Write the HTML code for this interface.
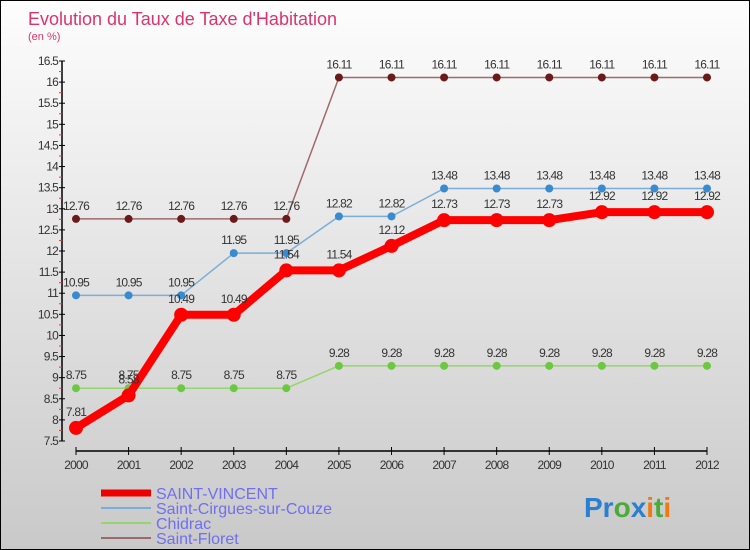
<!DOCTYPE html>
<html><head><meta charset="utf-8"><style>
body{margin:0}
#c{width:750px;height:550px;position:relative;box-sizing:border-box;border:1px solid #000;background:linear-gradient(#fdfdfd,#c9c9c9);font-family:"Liberation Sans",sans-serif;overflow:hidden}
svg{position:absolute;left:0;top:0}
</style></head><body>
<div id="c">
<svg id="s" width="750" height="550">
<text x="27" y="24" font-size="18" fill="#d8356e">Evolution du Taux de Taxe d'Habitation</text>
<text x="27" y="39" font-size="11" fill="#d8356e">(en %)</text>
<g id="ax"></g><g id="ser"></g>
<g>
<line x1="100" y1="492" x2="150" y2="492" stroke="#e00" stroke-width="7"/>
<text x="155" y="498" font-size="16" fill="#6f6ff0">SAINT-VINCENT</text>
<line x1="100" y1="507" x2="150" y2="507" stroke="#7aaed8" stroke-width="2"/>
<text x="155" y="513" font-size="16" fill="#6f6ff0">Saint-Cirgues-sur-Couze</text>
<line x1="100" y1="522" x2="150" y2="522" stroke="#96d46e" stroke-width="2"/>
<text x="155" y="528" font-size="16" fill="#6f6ff0">Chidrac</text>
<line x1="100" y1="537" x2="150" y2="537" stroke="#9a6a6a" stroke-width="2"/>
<text x="155" y="543" font-size="16" fill="#6f6ff0">Saint-Floret</text>
</g>
<text x="583" y="516" font-size="28" font-weight="bold"><tspan fill="#2a7fd0">Pr</tspan><tspan fill="#4aaa3a">o</tspan><tspan fill="#2a7fd0">x</tspan><tspan fill="#f07a10">i</tspan><tspan fill="#4aaa3a">t</tspan><tspan fill="#f07a10">i</tspan></text>
</svg>
</div>
<script>
const years=[2000,2001,2002,2003,2004,2005,2006,2007,2008,2009,2010,2011,2012];
const yTicks=[7.5,8,8.5,9,9.5,10,10.5,11,11.5,12,12.5,13,13.5,14,14.5,15,15.5,16,16.5];
const saintVincent=[7.81,8.58,10.49,10.49,11.54,11.54,12.12,12.73,12.73,12.73,12.92,12.92,12.92];
const saintCirgues=[10.95,10.95,10.95,11.95,11.95,12.82,12.82,13.48,13.48,13.48,13.48,13.48,13.48];
const chidrac=[8.75,8.75,8.75,8.75,8.75,9.28,9.28,9.28,9.28,9.28,9.28,9.28,9.28];
const saintFloret=[12.76,12.76,12.76,12.76,12.76,16.11,16.11,16.11,16.11,16.11,16.11,16.11,16.11];
const NS="http://www.w3.org/2000/svg";
const X=i=>75+i*(706-75)/12;
const Y=v=>440-(v-7.5)*(380/9);
function mk(t,a,p){const e=document.createElementNS(NS,t);for(const k in a)e.setAttribute(k,a[k]);p.appendChild(e);return e;}
const ax=document.getElementById('ax');
let e=mk('line',{x1:61,y1:60,x2:61,y2:440,stroke:'#000','stroke-width':1.5},ax);


yTicks.forEach((v,k)=>{
 mk('line',{x1:58,y1:Y(v),x2:64,y2:Y(v),stroke:'#000'},ax);
 if(k<yTicks.length-1) mk('line',{x1:58,y1:Y(v+0.25),x2:61,y2:Y(v+0.25),stroke:'#e33'},ax);
 const t=mk('text',{x:57,y:Y(v)+4,'font-size':12,fill:'#333','text-anchor':'end','letter-spacing':'-0.8'},ax);
 t.textContent=v;
 
 
});
e=mk('line',{x1:75,y1:450,x2:706,y2:450,stroke:'#000','stroke-width':1.5},ax);


years.forEach((y,i)=>{
 mk('line',{x1:X(i),y1:446,x2:X(i),y2:454,stroke:'#000'},ax);
 const t=mk('text',{x:X(i),y:468,'font-size':12,fill:'#333','text-anchor':'middle','letter-spacing':'-0.8'},ax);
 t.textContent=y;
 
 
});
const ser=document.getElementById('ser');
function draw(vals,name,line,dot,lw,r){
 const g=mk('g',{},ser);
 
 
 const p=mk('polyline',{points:vals.map((v,i)=>X(i)+','+Y(v)).join(' '),fill:'none',stroke:line,'stroke-width':lw,'stroke-linejoin':'round'},g);
 
 
 vals.forEach((v,i)=>{
  const c=mk('circle',{cx:X(i),cy:Y(v),r:r,fill:dot},g);
  
  
  const t=mk('text',{x:X(i),y:Y(v)-r-5,'font-size':12,fill:'#333','text-anchor':'middle','letter-spacing':'-0.8'},g);
  t.textContent=v;
  
  
 });
}
draw(saintFloret,'saint-floret','#a06a6a','#6b1a1a',1.5,4);
draw(saintCirgues,'saint-cirgues','#7aaed8','#3a8ad0',1.5,4);
draw(chidrac,'chidrac','#96d46e','#6cc840',1.5,4);
draw(saintVincent,'saint-vincent','#f00','#f00',8,7);
</script>
</body></html>
